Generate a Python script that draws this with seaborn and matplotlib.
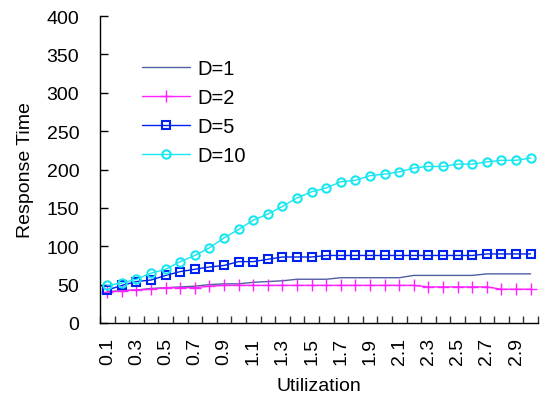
import pandas as pd
import matplotlib
matplotlib.use("Agg")
import matplotlib.pyplot as plt
import seaborn as sns
from matplotlib.ticker import FixedLocator

utilization = [0.1, 0.2, 0.3, 0.4, 0.5, 0.6, 0.7, 0.8, 0.9, 1.0,
               1.1, 1.2, 1.3, 1.4, 1.5, 1.6, 1.7, 1.8, 1.9, 2.0,
               2.1, 2.2, 2.3, 2.4, 2.5, 2.6, 2.7, 2.8, 2.9, 3.0]
d1 = [41, 42, 43, 45, 46, 47, 48, 50, 51, 51, 53, 54, 55, 57, 57,
      57, 59, 59, 59, 59, 59, 62, 62, 62, 62, 62, 64, 64, 64, 64]
d2 = [40, 42, 43, 44, 46, 46, 46, 48, 49, 49, 49, 49, 49, 49, 49,
      49, 49, 49, 49, 49, 49, 49, 47, 47, 47, 47, 47, 44, 44, 44]
d5 = [43, 49, 54, 56, 62, 67, 70, 73, 75, 80, 80, 83, 86, 86, 86,
      88, 88, 88, 88, 88, 88, 88, 88, 88, 88, 88, 90, 90, 90, 90]
d10 = [49, 52, 57, 65, 70, 80, 88, 98, 111, 122, 134, 142, 152, 163, 171,
       176, 184, 186, 192, 194, 197, 202, 204, 204, 207, 207, 210, 212, 212, 215]
series_names = ["D=1", "D=2", "D=5", "D=10"]
tick_labels = ["0.1", "0.3", "0.5", "0.7", "0.9", "1.1", "1.3", "1.5",
               "1.7", "1.9", "2.1", "2.3", "2.5", "2.7", "2.9"]

rows = []
for name, vals in zip(series_names, [d1, d2, d5, d10]):
    for u, v in zip(utilization, vals):
        rows.append({"Utilization": u, "Response Time": v, "D": name})
df = pd.DataFrame(rows)

sns.set_style("white")
plt.rcParams["font.family"] = ["Liberation Sans", "DejaVu Sans"]
plt.rcParams["text.color"] = "black"
plt.rcParams["axes.labelcolor"] = "black"
plt.rcParams["xtick.color"] = "black"
plt.rcParams["ytick.color"] = "black"

fig = plt.figure(figsize=(5.42, 4.06), dpi=100)
ax = fig.add_axes([0.1845, 0.202, 0.808, 0.756])

colors = {"D=1": "#4F5FA0", "D=2": "#FF22FF", "D=5": "#0022EE", "D=10": "#18E6F0"}
markers = {"D=1": "", "D=2": "+", "D=5": "s", "D=10": "o"}
sizes = {"D=1": 0, "D=2": 8, "D=5": 6, "D=10": 6}

for name in series_names:
    sub = df[df["D"] == name]
    sns.lineplot(data=sub, x="Utilization", y="Response Time", ax=ax,
                 color=colors[name], marker=markers[name] if markers[name] else None,
                 markersize=sizes[name], markerfacecolor="none" if name in ("D=5", "D=10") else colors[name],
                 markeredgecolor=colors[name], markeredgewidth=1.5 if name != "D=2" else 1.0,
                 linewidth=1.0, label=name, errorbar=None)

ax.set_xlim(0.05, 3.05)
ax.set_ylim(0, 400)
ax.set_yticks(range(0, 401, 50))
ax.set_xticks([float(t) for t in tick_labels])
ax.set_xticklabels(tick_labels, rotation=90)
ax.xaxis.set_minor_locator(FixedLocator([0.05 + 0.1 * i for i in range(31)]))
ax.tick_params(axis="x", which="major", length=0, labelsize=14, pad=10)
ax.tick_params(axis="x", which="minor", direction="in", length=5, width=1, color="#333333", bottom=True)
ax.tick_params(axis="y", direction="in", length=6, width=1, left=True, labelsize=14, pad=15)

for s in ["top", "right"]:
    ax.spines[s].set_visible(False)
for s in ["left", "bottom"]:
    ax.spines[s].set_color("black")
    ax.spines[s].set_linewidth(1.0)

ax.set_xlabel("Utilization", fontsize=14, labelpad=9)
ax.set_ylabel("Response Time", fontsize=14, labelpad=9)

ax.legend(loc="upper left", bbox_to_anchor=(0.096, 0.86), frameon=False,
          fontsize=14.5, borderpad=0, borderaxespad=0, handlelength=2.4,
          handletextpad=0.35, labelspacing=0.5)

fig.savefig("out.png", dpi=100)
